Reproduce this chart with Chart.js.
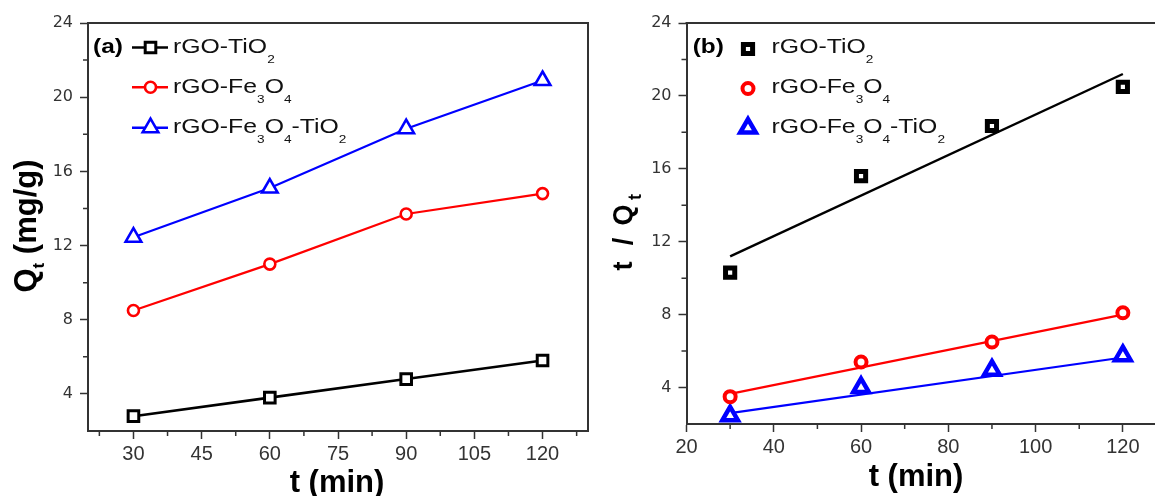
<!DOCTYPE html>
<html>
<head>
<meta charset="utf-8">
<script src="https://cdn.jsdelivr.net/npm/chart.js@4.4.1/dist/chart.umd.min.js"></script>
<style>
  html, body { margin: 0; padding: 0; background: #fff; }
  #wrap { position: relative; width: 1155px; height: 496px; overflow: hidden; background: #fff; }
  #chartA { position: absolute; left: 0; top: 0; }
  #chartB { position: absolute; left: 580px; top: 0; }
</style>
</head>
<body>
<div id="wrap">
  <canvas id="chartA" width="600" height="496"></canvas>
  <canvas id="chartB" width="600" height="496"></canvas>
</div>
<script>
// contact time (min)
const times = [30, 60, 90, 120];

// (a) Qt (mg/g)
const qtTiO2 = [2.8, 3.8, 4.8, 5.8];
const qtFe3O4 = [8.5, 11.0, 13.7, 14.8];
const qtFe3O4TiO2 = [12.45, 15.1, 18.3, 20.9];

// (b) t / Qt
const tqTiO2 = [10.3, 15.6, 18.35, 20.5];
const tqFe3O4 = [3.5, 5.4, 6.5, 8.1];
const tqFe3O4TiO2 = [2.45, 4.0, 4.95, 5.75];

// fitted lines in (b), ends
const fitX = [30, 120];
const fitTiO2 = [11.2, 21.2];
const fitFe3O4 = [3.65, 8.0];
const fitFe3O4TiO2 = [2.6, 5.65];

// minor ticks
const minorXa = [22.5, 37.5, 52.5, 67.5, 82.5, 97.5, 112.5, 127.5];
const minorXb = [30, 50, 70, 90, 110];
const minorY = [6, 10, 14, 18, 22];

// legend names (text, subscript?)
const names = [
  [['rGO-TiO', 0], ['2', 1]],
  [['rGO-Fe', 0], ['3', 1], ['O', 0], ['4', 1]],
  [['rGO-Fe', 0], ['3', 1], ['O', 0], ['4', 1], ['-TiO', 0], ['2', 1]]
];
const colors = ['#000000', '#ff0000', '#0000ff'];

const pts = (xs, ys) => xs.map((x, i) => ({ x: x, y: ys[i] }));
const FONT = '"Liberation Sans", Arial, sans-serif';
const AXIS = '#333';

Chart.defaults.font.family = FONT;

function marker(ctx, style, x, y, r, color, bw) {
  ctx.save();
  ctx.beginPath();
  if (style === 'rect') {
    const s = Math.SQRT1_2 * r;
    ctx.rect(x - s, y - s, 2 * s, 2 * s);
  } else if (style === 'circle') {
    ctx.arc(x, y, r, 0, Math.PI * 2);
  } else {
    for (let k = 0; k < 3; k++) {
      const a = k * 2 * Math.PI / 3;
      const px = x + Math.sin(a) * r, py = y - Math.cos(a) * r;
      if (k) ctx.lineTo(px, py); else ctx.moveTo(px, py);
    }
    ctx.closePath();
  }
  ctx.fillStyle = '#fff';
  ctx.fill();
  ctx.lineWidth = bw;
  ctx.strokeStyle = color;
  ctx.stroke();
  ctx.restore();
}

// draw text pieces with subscripts, optionally stretched in x
function rich(ctx, parts, x, y, o) {
  ctx.save();
  ctx.translate(x, y);
  if (o.rot) ctx.rotate(-Math.PI / 2);
  ctx.scale(o.sx || 1, 1);
  const font = (sub) => (o.bold ? 'bold ' : '') + (sub ? o.sub : o.size) + 'px ' + FONT;
  let total = 0;
  parts.forEach(([t, sub]) => { ctx.font = font(sub); total += ctx.measureText(t).width; });
  let cx = o.center ? -total / 2 : 0;
  ctx.fillStyle = o.color || '#000';
  ctx.textBaseline = 'alphabetic';
  ctx.textAlign = 'left';
  parts.forEach(([t, sub]) => {
    ctx.font = font(sub);
    ctx.fillText(t, cx, sub ? o.subDy : 0);
    cx += ctx.measureText(t).width;
  });
  ctx.restore();
}

const decor = {
  id: 'decor',
  afterDraw(chart, args, opts) {
    const ctx = chart.ctx, a = chart.chartArea;
    const xs = chart.scales.x, ys = chart.scales.y;
    ctx.save();
    // frame top + right
    ctx.strokeStyle = AXIS;
    ctx.lineWidth = 2;
    ctx.beginPath();
    ctx.moveTo(a.left - 1, a.top);
    ctx.lineTo(a.right, a.top);
    ctx.lineTo(a.right, a.bottom + 1);
    ctx.stroke();
    // minor ticks
    ctx.lineWidth = 1.5;
    ctx.beginPath();
    opts.minorX.forEach(v => {
      const px = xs.getPixelForValue(v);
      ctx.moveTo(px, a.bottom); ctx.lineTo(px, a.bottom + 5);
    });
    minorY.forEach(v => {
      const py = ys.getPixelForValue(v);
      ctx.moveTo(a.left, py); ctx.lineTo(a.left - 5, py);
    });
    ctx.stroke();
    ctx.restore();

    // axis titles
    rich(ctx, [['t (min)', 0]], opts.xTitle[0], opts.xTitle[1], { size: 31, bold: true, center: true });
    opts.yTitle(ctx);

    // legend
    rich(ctx, [[opts.tag, 0]], opts.tagX, 53, { size: 20, bold: true, sx: 1.22 });
    const styles = ['rect', 'circle', 'triangle'];
    names.forEach((parts, i) => {
      const c = colors[i];
      if (opts.legendLine) {
        ctx.save();
        ctx.strokeStyle = c;
        ctx.lineWidth = 2.4;
        ctx.beginPath();
        ctx.moveTo(opts.lineX[0], opts.markY[i]);
        ctx.lineTo(opts.lineX[1], opts.markY[i]);
        ctx.stroke();
        ctx.restore();
      }
      marker(ctx, styles[i], opts.markX, opts.markY[i], opts.radius[i], c, opts.mbw[i]);
      rich(ctx, parts, opts.textX, opts.textY[i], { size: 20, sub: 11, subDy: 10, sx: 1.24, color: '#111' });
    });
  }
};

function xScale(step, axisH) {
  return {
    type: 'linear', min: 20, max: 130,
    afterFit: s => { s.height = axisH; },
    ticks: { stepSize: step, includeBounds: false, color: AXIS, padding: 3, maxRotation: 0, autoSkip: false,
             font: { family: FONT, size: 20 } },
    grid: { drawOnChartArea: false, tickLength: 8, tickColor: AXIS, tickWidth: 1.5 },
    border: { color: AXIS, width: 2 }
  };
}
function yScale(axisW) {
  return {
    min: 2, max: 24,
    afterFit: s => { s.width = axisW; },
    ticks: { stepSize: 4, includeBounds: false, color: AXIS, padding: 7,
             font: { family: '"DejaVu Sans", sans-serif', size: 16 } },
    grid: { drawOnChartArea: false, tickLength: 8, tickColor: AXIS, tickWidth: 1.5 },
    border: { color: AXIS, width: 2 }
  };
}

// (a)
const styleA = { r: [7.5, 5.5, 9], bw: [3, 2.6, 2.6] };
const seriesA = [qtTiO2, qtFe3O4, qtFe3O4TiO2];
new Chart(document.getElementById('chartA'), {
  type: 'line',
  data: {
    datasets: seriesA.map((ys, i) => ({
      data: pts(times, ys),
      borderColor: colors[i], borderWidth: i === 0 ? 2.6 : 2.2,
      pointStyle: ['rect', 'circle', 'triangle'][i],
      pointRadius: styleA.r[i], pointBorderWidth: styleA.bw[i],
      pointBackgroundColor: '#fff', pointBorderColor: colors[i], tension: 0
    }))
  },
  options: {
    responsive: false, animation: false, events: [],
    layout: { padding: { left: 0, right: 12, top: 23, bottom: 0 } },
    scales: { x: xScale(15, 65), y: yScale(88) },
    plugins: {
      legend: { display: false }, tooltip: { enabled: false },
      decor: {
        minorX: minorXa, xTitle: [337, 492], tag: '(a)', tagX: 93,
        legendLine: true, lineX: [132, 168], markX: 150.5, markY: [47.5, 87.3, 127.7],
        radius: styleA.r, mbw: styleA.bw, textX: 173, textY: [53, 92.5, 133],
        yTitle: ctx => rich(ctx, [['Q', 0], ['t', 1], [' (mg/g)', 0]], 36, 226,
                            { size: 31, sub: 17, subDy: 8, bold: true, rot: true, center: true })
      }
    }
  },
  plugins: [decor]
});

// (b)
const styleB = { r: [6.5, 5.5, 9], bw: [5, 4, 4.5] };
const seriesB = [tqTiO2, tqFe3O4, tqFe3O4TiO2];
const fitsB = [fitTiO2, fitFe3O4, fitFe3O4TiO2];
new Chart(document.getElementById('chartB'), {
  type: 'line',
  data: {
    datasets: seriesB.map((ys, i) => ({
      data: pts(times, ys), showLine: false,
      pointStyle: ['rect', 'circle', 'triangle'][i],
      pointRadius: styleB.r[i], pointBorderWidth: styleB.bw[i],
      pointBackgroundColor: '#fff', pointBorderColor: colors[i]
    })).concat(fitsB.map((ys, i) => ({
      data: pts(fitX, ys), borderColor: colors[i], borderWidth: i === 0 ? 2.4 : 2.2,
      pointRadius: 0, tension: 0
    })))
  },
  options: {
    responsive: false, animation: false, events: [],
    layout: { padding: { left: 0, right: 11, top: 23, bottom: 0 } },
    scales: { x: xScale(20, 72), y: yScale(106.5) },
    plugins: {
      legend: { display: false }, tooltip: { enabled: false },
      decor: {
        minorX: minorXb, xTitle: [336, 486], tag: '(b)', tagX: 112.7,
        legendLine: false, markX: 168, markY: [49, 88.5, 128],
        radius: styleB.r, mbw: styleB.bw, textX: 191.6, textY: [53, 93, 133],
        yTitle: ctx => {
          ctx.save();
          ctx.translate(52, 0);
          ctx.rotate(-Math.PI / 2);
          ctx.fillStyle = '#000';
          ctx.textAlign = 'center';
          ctx.textBaseline = 'alphabetic';
          ctx.font = 'bold 27px ' + FONT;
          ctx.fillText('t', -266, 0);
          ctx.fillText('/', -241.5, 0);
          ctx.fillText('Q', -215, 0);
          ctx.font = 'bold 18px ' + FONT;
          ctx.fillText('t', -197, 9);
          ctx.restore();
        }
      }
    }
  },
  plugins: [decor]
});
</script>
</body>
</html>
